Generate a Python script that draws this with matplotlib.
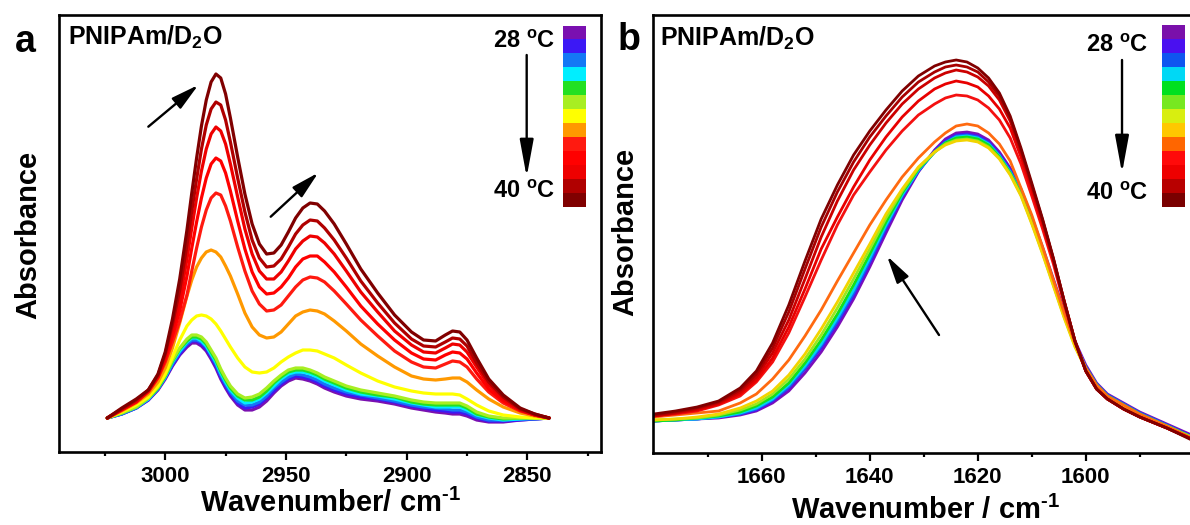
import numpy as np
import matplotlib

matplotlib.use("Agg")
import matplotlib.pyplot as plt
from matplotlib.colors import ListedColormap
from matplotlib.ticker import FixedLocator

plt.rcParams["font.family"] = ["Liberation Sans", "DejaVu Sans"]
plt.rcParams["font.weight"] = "bold"
plt.rcParams["axes.labelweight"] = "bold"
plt.rcParams["mathtext.fontset"] = "custom"
plt.rcParams["mathtext.rm"] = "Liberation Sans:bold"
plt.rcParams["mathtext.it"] = "Liberation Sans:bold"
plt.rcParams["mathtext.bf"] = "Liberation Sans:bold"

temps = [28, 29, 30, 31, 32, 33, 34, 35, 36, 37, 38, 39, 40]

# panel a: C-H stretching region, absorbance in arbitrary units (x1000)
wn_a = [3024, 3018, 3012, 3007, 3003, 3000, 2997, 2994, 2991, 2989, 2987, 2985, 2983, 2981, 2979,
        2977, 2975, 2973, 2970, 2967, 2964, 2961, 2958, 2955, 2952, 2949, 2946, 2943, 2940, 2937,
        2934, 2930, 2925, 2919, 2912, 2905, 2898, 2893, 2888, 2884, 2881, 2878, 2875, 2871, 2866,
        2860, 2853, 2847, 2841]
a_28 = [34, 38, 44, 52, 62, 73, 86, 97, 105, 109, 109, 106, 101, 93, 84, 73, 64, 56, 47, 42,
        42, 45, 51, 59, 66, 71, 74, 73, 71, 68, 64, 60, 56, 53, 51, 48, 44, 42, 40, 39,
        38, 38, 36, 32, 30, 30, 32, 33, 34]
a_29 = [34, 38, 44, 52, 63, 74, 87, 98, 107, 111, 111, 108, 103, 95, 86, 75, 66, 58, 49, 44,
        45, 48, 54, 61, 68, 73, 76, 75, 73, 70, 66, 62, 58, 55, 53, 50, 46, 44, 42, 41,
        40, 40, 38, 34, 31, 31, 32, 33, 34]
a_30 = [34, 38, 44, 53, 63, 75, 88, 100, 108, 112, 112, 110, 105, 97, 88, 77, 68, 60, 51, 47,
        47, 50, 56, 64, 70, 75, 78, 77, 75, 72, 68, 64, 60, 57, 54, 51, 47, 45, 44, 43,
        42, 42, 40, 35, 32, 32, 33, 33, 34]
a_31 = [34, 39, 45, 53, 64, 75, 90, 101, 110, 114, 114, 111, 106, 98, 90, 79, 70, 62, 54, 49,
        50, 53, 59, 66, 73, 78, 80, 80, 78, 75, 71, 67, 62, 58, 56, 53, 49, 47, 45, 45,
        45, 45, 42, 37, 34, 32, 33, 34, 34]
a_32 = [34, 39, 45, 54, 64, 76, 91, 103, 111, 115, 115, 113, 108, 100, 92, 81, 72, 64, 56, 52,
        52, 55, 61, 69, 75, 80, 82, 82, 80, 77, 73, 69, 64, 60, 57, 55, 50, 48, 47, 47,
        47, 47, 44, 38, 35, 33, 34, 34, 34]
a_33 = [34, 39, 45, 54, 65, 77, 92, 104, 113, 117, 117, 115, 110, 102, 94, 83, 74, 66, 58, 54,
        55, 58, 64, 71, 77, 82, 84, 84, 82, 79, 75, 71, 66, 62, 59, 56, 52, 50, 49, 49,
        49, 49, 46, 40, 36, 34, 34, 34, 34]
a_34 = [34, 40, 47, 55, 66, 78, 95, 112, 126, 132, 136, 137, 136, 133, 128, 121, 113, 105, 94, 85,
        80, 79, 80, 84, 90, 95, 99, 102, 102, 101, 98, 94, 87, 79, 71, 65, 61, 59, 58, 58,
        58, 57, 53, 47, 41, 37, 35, 34, 34]
a_35 = [34, 41, 49, 58, 70, 84, 104, 129, 156, 172, 185, 194, 200, 202, 200, 195, 186, 176, 158, 139,
        125, 117, 114, 115, 120, 128, 136, 140, 142, 141, 138, 131, 121, 108, 96, 85, 76, 73, 72, 73,
        74, 74, 70, 62, 53, 45, 39, 36, 34]
a_36 = [34, 42, 50, 60, 74, 90, 110, 131, 157, 181, 204, 225, 242, 254, 259, 257, 246, 231, 205, 181,
        161, 148, 141, 142, 147, 156, 165, 172, 175, 174, 170, 161, 148, 132, 116, 101, 90, 85, 84, 88,
        91, 90, 85, 73, 60, 49, 41, 37, 34]
a_37 = [34, 42, 50, 61, 75, 93, 116, 141, 176, 204, 230, 254, 274, 288, 294, 291, 279, 261, 231, 203,
        180, 165, 158, 159, 165, 174, 185, 193, 196, 196, 190, 180, 165, 146, 128, 112, 99, 93, 92, 97,
        100, 99, 93, 79, 63, 51, 42, 37, 34]
a_38 = [34, 43, 51, 61, 76, 96, 122, 151, 193, 224, 254, 281, 303, 318, 325, 321, 308, 288, 255, 223,
        198, 181, 173, 173, 180, 191, 203, 211, 216, 215, 209, 198, 181, 160, 140, 121, 107, 100, 99, 104,
        108, 107, 100, 85, 67, 53, 42, 37, 34]
a_39 = [34, 43, 52, 62, 77, 98, 128, 162, 207, 241, 273, 303, 327, 343, 350, 347, 332, 310, 274, 240,
        212, 194, 185, 186, 193, 205, 218, 227, 232, 231, 224, 212, 194, 171, 149, 129, 113, 106, 105, 110,
        114, 113, 106, 89, 70, 55, 43, 38, 34]
a_40 = [34, 44, 53, 62, 78, 100, 133, 173, 222, 259, 294, 326, 352, 370, 378, 374, 358, 334, 295, 258,
        228, 208, 198, 199, 207, 220, 234, 244, 249, 248, 241, 228, 208, 183, 159, 137, 120, 112, 111, 117,
        121, 120, 112, 94, 73, 57, 44, 38, 34]

# panel b: amide I region
wn_b = [1680, 1676, 1672, 1668, 1664, 1661, 1658, 1655, 1652, 1649, 1646, 1643, 1640, 1637, 1634,
        1631, 1628, 1626, 1624, 1622, 1620, 1618, 1616, 1614, 1612, 1610, 1608, 1606, 1604, 1602,
        1600, 1598, 1596, 1593, 1590, 1585, 1580]
b_28 = [32, 33, 34, 35, 38, 42, 50, 62, 80, 101, 126, 154, 186, 220, 253, 281, 303, 314, 320, 321,
        319, 313, 301, 285, 264, 236, 206, 174, 142, 112, 88, 70, 59, 50, 41, 29, 17]
b_29 = [32, 33, 34, 36, 39, 43, 52, 65, 84, 105, 130, 158, 190, 224, 256, 282, 302, 312, 318, 319,
        317, 311, 299, 283, 262, 234, 204, 172, 140, 110, 86, 69, 58, 49, 40, 28, 16]
b_30 = [32, 33, 34, 36, 39, 44, 53, 66, 85, 107, 132, 160, 192, 226, 257, 282, 301, 311, 317, 318,
        316, 310, 298, 282, 261, 233, 203, 171, 139, 110, 86, 69, 58, 49, 40, 28, 15]
b_31 = [32, 33, 34, 36, 40, 45, 54, 68, 87, 109, 135, 163, 195, 228, 258, 283, 301, 310, 316, 317,
        315, 309, 297, 281, 260, 232, 202, 170, 138, 109, 85, 68, 57, 48, 39, 27, 15]
b_32 = [32, 33, 35, 37, 41, 47, 56, 70, 90, 113, 139, 168, 199, 231, 260, 284, 301, 310, 315, 316,
        314, 308, 296, 280, 259, 231, 201, 169, 137, 108, 85, 68, 57, 48, 39, 27, 15]
b_33 = [33, 34, 35, 38, 43, 49, 59, 74, 94, 118, 145, 174, 204, 235, 262, 285, 301, 309, 313, 314,
        312, 306, 295, 279, 258, 230, 200, 168, 136, 107, 84, 67, 56, 47, 38, 27, 15]
b_34 = [33, 34, 36, 39, 45, 52, 62, 78, 99, 124, 151, 180, 209, 239, 264, 286, 301, 308, 312, 313,
        311, 305, 294, 278, 257, 229, 199, 167, 135, 106, 84, 67, 56, 47, 38, 26, 14]
b_35 = [36, 38, 40, 42, 50, 59, 74, 93, 117, 143, 172, 200, 228, 253, 276, 295, 311, 320, 327, 329,
        327, 320, 309, 292, 265, 238, 206, 173, 140, 110, 85, 68, 57, 48, 39, 27, 14]
b_36 = [37, 39, 42, 48, 57, 71, 91, 120, 156, 193, 228, 258, 281, 303, 322, 338, 349, 355, 358, 357,
        353, 345, 333, 315, 289, 257, 224, 189, 149, 111, 82, 64, 54, 44, 36, 25, 13]
b_37 = [37, 40, 43, 49, 59, 73, 95, 126, 164, 204, 236, 266, 293, 316, 336, 352, 364, 369, 372, 370,
        366, 357, 344, 325, 296, 263, 229, 192, 151, 112, 82, 64, 54, 44, 36, 25, 13]
b_38 = [37, 40, 44, 50, 61, 76, 100, 133, 174, 216, 252, 283, 308, 330, 349, 364, 375, 380, 383, 381,
        376, 367, 353, 332, 301, 267, 232, 194, 152, 112, 82, 64, 54, 44, 36, 25, 13]
b_39 = [38, 41, 45, 51, 63, 79, 105, 141, 184, 226, 261, 291, 316, 337, 356, 371, 381, 386, 388, 386,
        381, 371, 357, 335, 303, 268, 233, 194, 152, 112, 82, 64, 54, 44, 36, 25, 13]
b_40 = [39, 42, 46, 52, 65, 82, 110, 148, 192, 234, 268, 298, 322, 343, 362, 377, 387, 391, 393, 391,
        385, 375, 360, 337, 305, 270, 234, 195, 152, 112, 82, 64, 54, 44, 36, 25, 12]

colors_a = ["#7a10b0", "#3c18f5", "#1478f5", "#00eeff", "#22e022", "#a8ee22", "#ffff00",
            "#ff9900", "#ff1a10", "#ff0000", "#ee0000", "#b00000", "#800000"]
line_colors_b = ["#7b0fb8", "#4b12f2", "#1464f0", "#00d2f5", "#12e01a", "#9ae81e", "#f2d400",
                 "#ff6a10", "#f41010", "#e80000", "#cc0000", "#a80000", "#800000"]
bar_colors_b = ["#7a10aa", "#4a10f0", "#0f55f0", "#00d8f5", "#00e020", "#77e820", "#d8ee10",
                "#ffc800", "#ff6600", "#ff0a0a", "#ee0000", "#b80000", "#7a0000"]

series_a = [a_28, a_29, a_30, a_31, a_32, a_33, a_34, a_35, a_36, a_37, a_38, a_39, a_40]
series_b = [b_28, b_29, b_30, b_31, b_32, b_33, b_34, b_35, b_36, b_37, b_38, b_39, b_40]


def _arrow(ax, tail, tip, head_length=1.4):
    ax.annotate(
        "", xy=tip, xytext=tail, xycoords="axes fraction", textcoords="axes fraction",
        arrowprops=dict(arrowstyle=f"-|>,head_length={head_length},head_width=0.35",
                        color="black", lw=1.7, mutation_scale=12, shrinkA=0, shrinkB=0),
    )


def _panel(ax, wn, series, colors, lw, xlim, ylim, majors, minors):
    for values, color in zip(series, colors):
        ax.plot(wn, values, color=color, lw=lw, solid_joinstyle="round", solid_capstyle="round")
    ax.set_xlim(*xlim)
    ax.set_ylim(*ylim)
    ax.xaxis.set_major_locator(FixedLocator(majors))
    ax.xaxis.set_minor_locator(FixedLocator(minors))
    ax.set_yticks([])
    ax.tick_params(axis="x", which="major", direction="out", length=6, width=1.6, labelsize=16, pad=4)
    ax.tick_params(axis="x", which="minor", direction="out", length=3, width=1.6)
    for spine in ax.spines.values():
        spine.set_linewidth(1.9)


def _colorbar(ax, rect, colors):
    cax = ax.inset_axes(rect)
    cax.imshow(np.arange(len(temps)).reshape(-1, 1), cmap=ListedColormap(colors),
               aspect="auto", interpolation="nearest")
    cax.set_axis_off()


fig = plt.figure(figsize=(11.9, 5.25), dpi=100)
ax_a = fig.add_axes([0.04958, 0.13905, 0.45546, 0.83238])
ax_b = fig.add_axes([0.54849, 0.13714, 0.45378, 0.83429])

_panel(ax_a, wn_a, series_a, colors_a, 2.3, (3044, 2819.5), (0, 437),
       [3000, 2950, 2900, 2850], [3025, 2975, 2925, 2875, 2825])
_panel(ax_b, wn_b, series_b, line_colors_b, 2.0, (1680.2, 1580.2), (0, 438),
       [1660, 1640, 1620, 1600], [1670, 1650, 1630, 1610, 1590])

# panel a decorations
ax_a.text(0.0166, 0.931, "PNIPAm/D$_2$O", transform=ax_a.transAxes, fontsize=18, va="baseline")
_colorbar(ax_a, [0.9293, 0.5606, 0.0411, 0.4142], colors_a)
ax_a.text(0.9151, 0.9389, f"{temps[0]} $^o$C", transform=ax_a.transAxes, fontsize=17, ha="right", va="center")
ax_a.text(0.9151, 0.5957, f"{temps[-1]} $^o$C", transform=ax_a.transAxes, fontsize=17, ha="right", va="center")
_arrow(ax_a, (0.8629, 0.9085), (0.8629, 0.6293), head_length=1.9)
_arrow(ax_a, (0.1648, 0.7444), (0.2570, 0.8398))
_arrow(ax_a, (0.3906, 0.5384), (0.4784, 0.6391))
ax_a.set_xlabel("Wavenumber/ cm$^{\\text{-1}}$", fontsize=21, fontweight="bold", va="center")
ax_a.xaxis.set_label_coords(0.5, -0.1167)
ax_a.set_ylabel("Absorbance", fontsize=21, fontweight="bold", va="center")
ax_a.yaxis.set_label_coords(-0.0572, 0.4966)

# panel b decorations
ax_b.text(0.0135, 0.929, "PNIPAm/D$_2$O", transform=ax_b.transAxes, fontsize=18, va="baseline")
_colorbar(ax_b, [0.9426, 0.5616, 0.0413, 0.4155], bar_colors_b)
ax_b.text(0.9172, 0.9315, f"{temps[0]} $^o$C", transform=ax_b.transAxes, fontsize=17, ha="right", va="center")
ax_b.text(0.9172, 0.5936, f"{temps[-1]} $^o$C", transform=ax_b.transAxes, fontsize=17, ha="right", va="center")
_arrow(ax_b, (0.8691, 0.8973), (0.8691, 0.6393), head_length=1.9)
_arrow(ax_b, (0.5302, 0.2694), (0.4339, 0.4498))
ax_b.set_xlabel("Wavenumber / cm$^{\\text{-1}}$", fontsize=21, fontweight="bold", va="center")
ax_b.xaxis.set_label_coords(0.506, -0.130)
ax_b.set_ylabel("Absorbance", fontsize=21, fontweight="bold", va="center")
ax_b.yaxis.set_label_coords(-0.0513, 0.5046)

fig.text(0.021, 0.92, "a", fontsize=27, ha="center", va="center")
fig.text(0.5286, 0.9238, "b", fontsize=27, ha="center", va="center")

fig.savefig("out.png", dpi=100)
